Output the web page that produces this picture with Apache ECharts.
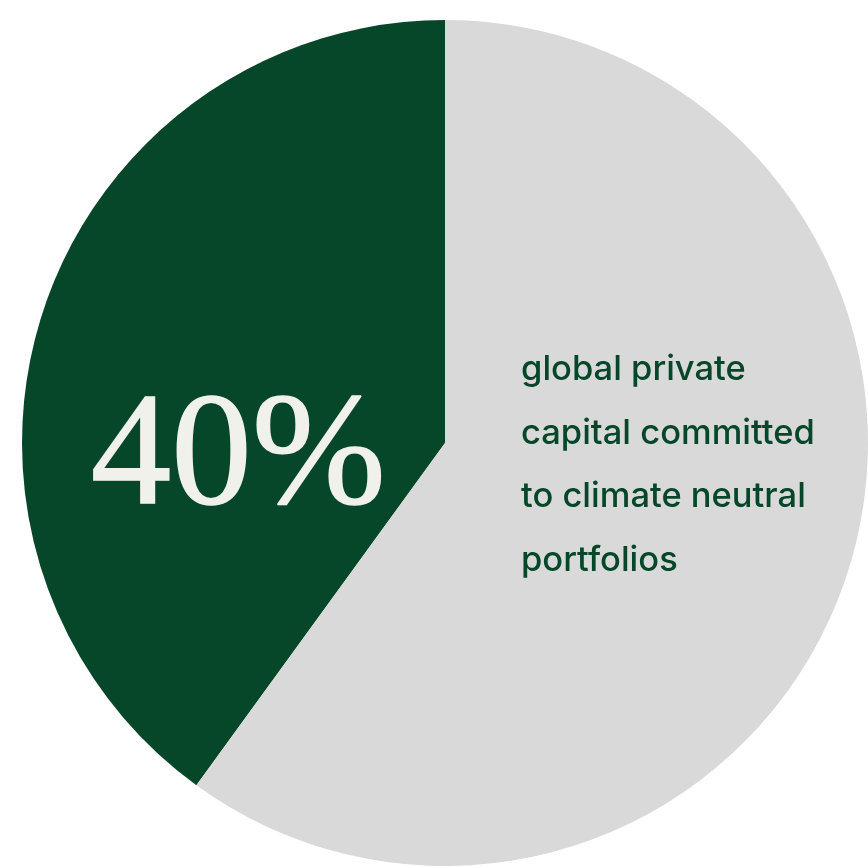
<!DOCTYPE html>
<html>
<head>
<meta charset="utf-8">
<script src="https://cdn.jsdelivr.net/npm/echarts@6/dist/echarts.min.js"></script>
<style>
  html, body { margin: 0; padding: 0; background: #ffffff; }
  #chart { width: 868px; height: 867px; }
</style>
</head>
<body>
<div id="chart"></div>
<script>
// Share of global private capital committed to climate neutral portfolios
const categories = ['Committed to climate neutral portfolios', 'Other private capital'];
const shareValues = [40, 60];
const captionLines = ['global private', 'capital committed', 'to climate neutral', 'portfolios'];

const GREEN = '#06472A';
const GREY = '#D9D9D9';
const CREAM = '#F1F1EB';

const chart = echarts.init(document.getElementById('chart'), null, { renderer: 'canvas' });

chart.setOption({
  animation: false,
  backgroundColor: '#ffffff',
  series: [{
    type: 'pie',
    center: [445, 443],
    radius: [0, 423],
    startAngle: 90,
    clockwise: false,
    silent: true,
    z: 1,
    label: { show: false },
    labelLine: { show: false },
    itemStyle: { borderWidth: 0 },
    data: [
      { name: categories[0], value: shareValues[0], itemStyle: { color: GREEN } },
      { name: categories[1], value: shareValues[1], itemStyle: { color: GREY } }
    ]
  }],
  graphic: {
    elements: [
      {
        type: 'text',
        z: 100,
        left: 90,
        top: 379,
        style: {
          text: shareValues[0] + '%',
          fill: CREAM,
          stroke: CREAM,
          lineWidth: 1.5,
          fontSize: 161,
          fontWeight: 'normal',
          fontFamily: '"Liberation Serif", "DejaVu Serif", serif'
        }
      },
      {
        type: 'text',
        z: 100,
        left: 521,
        top: 338,
        style: {
          text: captionLines.join('\n'),
          fill: GREEN,
          fontSize: 34.5,
          fontWeight: 500,
          fontFamily: 'Inter, "Open Sans", sans-serif',
          lineHeight: 63.5
        }
      }
    ]
  }
});
</script>
</body>
</html>
